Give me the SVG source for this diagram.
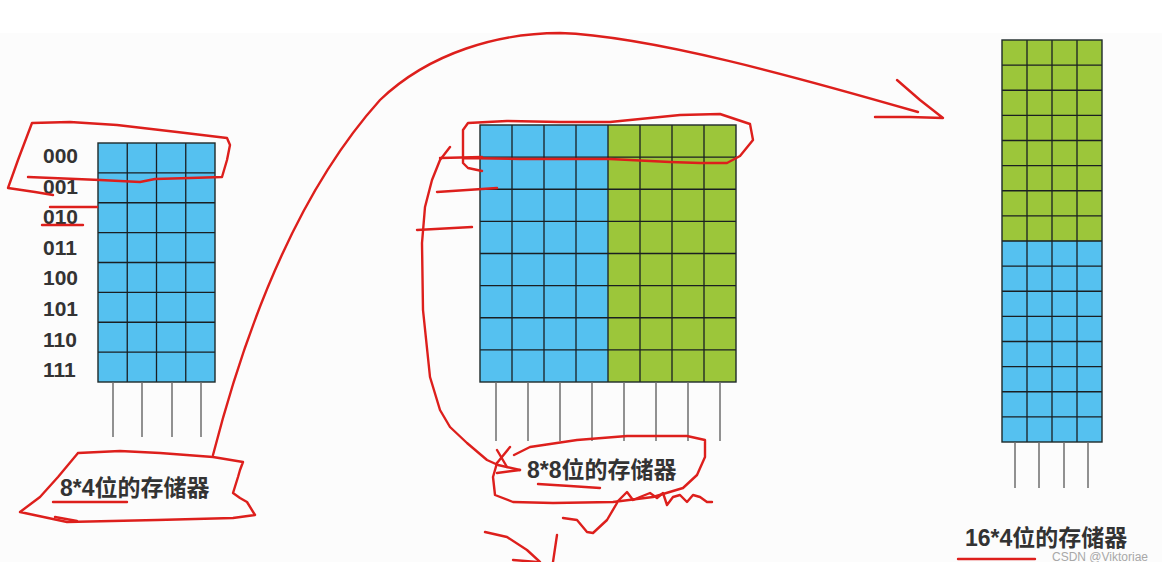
<svg xmlns="http://www.w3.org/2000/svg" width="1162" height="562" viewBox="0 0 1162 562">
<style>
.blue{fill:#55c1f0}
.green{fill:#9cc63a}
.border{fill:none;stroke:#1f2a2a;stroke-width:1.4}
.gl{fill:none;stroke:#1a1f22;stroke-width:1.3}
.wire{fill:none;stroke:#6e6e6e;stroke-width:1.5}
.addr{font-family:"Liberation Sans","Noto Sans CJK SC",sans-serif;font-weight:bold;font-size:21px;fill:#333}
.cap{font-family:"Liberation Sans","Noto Sans CJK SC",sans-serif;font-weight:bold;font-size:23px;fill:#333}
.wm{font-family:"Liberation Sans","Noto Sans CJK SC",sans-serif;font-size:12px;fill:#a8a8a8}
.red{fill:none;stroke:#dd1f1c;stroke-width:2.4;stroke-linejoin:round;stroke-linecap:round}
</style>
<rect width="1162" height="562" fill="#ffffff"/>
<rect x="0" y="33" width="1162" height="529" fill="#fcfcfc"/>

<g id="mem8x4">
<rect class="blue" x="98" y="143" width="117" height="239"/>
<path class="gl" d="M127.25,143V382M156.5,143V382M185.75,143V382M98,172.9H215M98,202.75H215M98,232.6H215M98,262.5H215M98,292.4H215M98,322.25H215M98,352.1H215"/>
<rect class="border" x="98" y="143" width="117" height="239"/>
<path class="wire" d="M113,382V437M142,382V437M172,382V437M201,382V437"/>
<text class="addr" x="43" y="163">000</text>
<text class="addr" x="43" y="193.6">001</text>
<text class="addr" x="43" y="224.2">010</text>
<text class="addr" x="43" y="254.8">011</text>
<text class="addr" x="43" y="285.4">100</text>
<text class="addr" x="43" y="316">101</text>
<text class="addr" x="43" y="346.6">110</text>
<text class="addr" x="43" y="377">111</text>
<text class="cap" x="60" y="496">8*4位的存储器</text>
</g>

<g id="mem8x8">
<rect class="blue" x="480" y="125" width="128" height="257"/>
<rect class="green" x="608" y="125" width="128" height="257"/>
<path class="gl" d="M512,125V382M544,125V382M576,125V382M608,125V382M640,125V382M672,125V382M704,125V382M480,157.1H736M480,189.25H736M480,221.4H736M480,253.5H736M480,285.6H736M480,317.75H736M480,349.9H736"/>
<rect class="border" x="480" y="125" width="256" height="257"/>
<path class="wire" d="M496,382V441M528,382V441M560,382V441M592,382V441M624,382V441M656,382V441M688,382V441M720,382V441"/>
<text class="cap" x="527" y="478">8*8位的存储器</text>
</g>

<g id="mem16x4">
<rect class="green" x="1002" y="40" width="100" height="201"/>
<rect class="blue" x="1002" y="241" width="100" height="201"/>
<path class="gl" d="M1027,40V442M1052,40V442M1077,40V442M1002,65.1H1102M1002,90.25H1102M1002,115.4H1102M1002,140.5H1102M1002,165.6H1102M1002,190.75H1102M1002,215.9H1102M1002,241H1102M1002,266.1H1102M1002,291.25H1102M1002,316.4H1102M1002,341.5H1102M1002,366.6H1102M1002,391.75H1102M1002,416.9H1102"/>
<rect class="border" x="1002" y="40" width="100" height="402"/>
<path class="wire" d="M1015,442V488M1039,442V488M1064,442V488M1088,442V488"/>
<text class="cap" x="965" y="546">16*4位的存储器</text>
</g>

<g id="connectors">
<path class="red" d="M53,195 L35,192 L8,188 L18,160 L32,123 L70,122 L117,125 L177,132 L227,138 L230,145 L227,160 L222,177 L190,178 L155,179 L140,182 L100,180 L28,177"/>
<path class="red" d="M50,207 L97,207"/>
<path class="red" d="M42,225 L83,225"/>
<path class="red" d="M78,453 L120,451 L160,453 L213,457 L243,462 L240,470 L238,477 L233,493 L240,498 L247,502 L255,515 L233,518 L157,520 L67,522 L20,512 L40,497 L58,477 L78,453"/>
<path class="red" d="M53,502 L127,502"/>
<path class="red" d="M55,517 L77,521"/>
<path class="red" d="M213,455 C240,350 290,200 380,100 C430,52 500,33 560,33 C650,36 800,78 918,112"/>
<path class="red" d="M897,80 L920,100 L943,118 L910,117 L875,117"/>
<path class="red" d="M482,171 L468,168 L463,163 L463,130 L468,123 L507,121 L560,122 L610,122 L650,118 L680,115 L720,114 L750,124 L753,140 L740,156 L727,163 L700,163 L670,162 L610,159 L520,159 L463,158"/>
<path class="red" d="M450,147 L440,160 L432,180 L425,207 L422,243 L423,310 L430,377 L440,410 L450,427 L467,443 L487,460 L498,465 L520,470"/>
<path class="red" d="M440,158 L482,157"/>
<path class="red" d="M437,192 L497,188"/>
<path class="red" d="M417,230 L472,227"/>
<path class="red" d="M497,450 L507,467 M510,447 L497,463 M497,473 L520,470"/>
<path class="red" d="M514,455 L530,447 L577,440 L627,436 L687,436 L705,440 L705,457 L697,475 L683,488 L653,497 L613,502 L553,503 L513,502 L495,495 L493,477 L497,463"/>
<path class="red" d="M617,502 L627,492 L633,500 L640,497 L650,493 L657,498 L663,493 L667,505 L673,497 L680,495 L687,502 L693,495 L700,497 L707,502 L712,502"/>
<path class="red" d="M617,503 L607,520 L593,533 L587,532 L577,520 L563,518"/>
<path class="red" d="M538,484 L570,486 L600,488"/>
<path class="red" d="M485,532 L507,537 L527,550 L540,562"/>
<path class="red" d="M557,535 L553,562"/>
<path class="red" d="M513,560 L537,562"/>
<path class="red" d="M958,559 L1035,559"/>
</g>
<text class="wm" x="1052" y="561">CSDN @Viktoriae</text>
</svg>
